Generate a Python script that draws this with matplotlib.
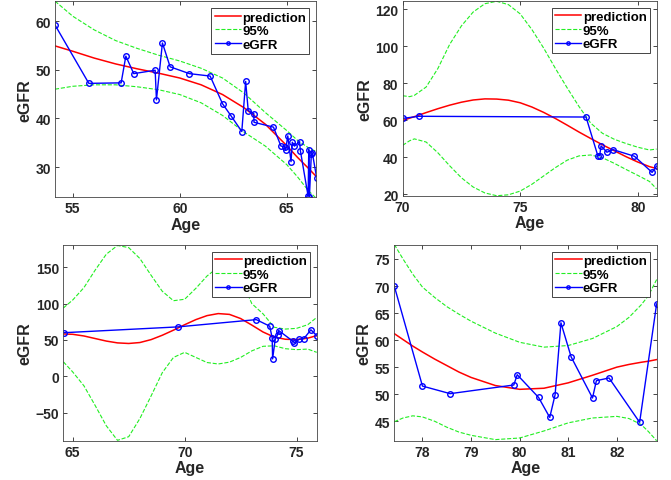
import matplotlib.pyplot as plt

plt.rcParams['font.family'] = ['Liberation Sans', 'DejaVu Sans']
plt.rcParams['font.weight'] = 'bold'

# ---- panel 1 ----
age1 = [54.17, 55.75, 57.26, 57.48, 57.85, 58.85, 58.91, 59.19, 59.55, 60.45, 61.42,
        62.0, 62.4, 62.9, 63.08, 63.2, 63.46, 63.47, 64.38, 64.73, 64.9, 64.95, 65.05,
        65.2, 65.26, 65.36, 65.6, 65.64, 66.0, 66.03, 66.06, 66.15, 66.2, 66.4]
egfr1 = [59.2, 47.2, 47.3, 52.8, 49.2, 49.9, 43.8, 55.5, 50.6, 49.2, 48.7,
         43.0, 40.5, 37.3, 47.6, 41.6, 41.0, 39.2, 38.2, 34.3, 34.2, 33.5, 36.4,
         31.1, 35.1, 34.3, 35.2, 33.3, 24.0, 33.6, 23.8, 32.7, 32.8, 27.8]
cage1 = [54.17, 55, 56, 57, 58, 59, 60, 61, 62, 63, 64, 65, 65.5, 66, 66.37]
pred1 = [54.9, 53.8, 52.4, 51.2, 50.2, 49.3, 48.3, 46.9, 44.9, 42.2, 38.8, 34.4, 32.0, 29.8, 28.1]
up1 = [64.1, 61.0, 58.2, 56.0, 54.4, 53.0, 51.8, 50.3, 48.3, 45.2, 41.2, 37.5, 35.5, 34.0, 33.2]
lo1 = [46.0, 46.6, 46.9, 46.9, 46.5, 45.9, 44.9, 43.2, 40.6, 37.2, 34.3, 30.5, 28.0, 25.2, 23.6]

# ---- panel 2 ----
age2 = [70.03, 70.7, 77.8, 78.3, 78.38, 78.44, 78.69, 78.95, 79.86, 80.61, 80.8]
egfr2 = [61.1, 62.2, 61.8, 41.0, 41.0, 46.2, 42.8, 44.2, 40.6, 31.9, 35.3]
cage2 = [70, 70.3, 70.5, 71, 71.5, 72, 72.5, 73, 73.5, 74, 74.5, 75, 75.5, 76, 76.5,
         77, 77.5, 78, 78.5, 79, 79.5, 80, 80.5, 80.8]
pred2 = [59.9, 61.2, 62.0, 64.2, 66.3, 68.2, 69.8, 71.0, 71.6, 71.5, 70.9, 69.5, 67.2,
         64.3, 61.0, 57.4, 53.7, 50.2, 46.8, 43.6, 40.4, 37.5, 35.0, 34.0]
up2 = [73.3, 72.8, 73.5, 78.0, 88.0, 101.0, 111.0, 118.5, 123.0, 124.3, 122.5, 117.5,
       109.0, 99.0, 88.0, 77.5, 67.5, 58.5, 53.0, 49.8, 47.5, 45.5, 44.0, 44.5]
lo2 = [46.5, 49.0, 50.0, 48.3, 42.5, 35.5, 29.0, 24.0, 20.8, 19.3, 19.8, 21.8, 25.5,
       30.0, 34.5, 38.5, 40.8, 41.3, 39.8, 36.8, 33.5, 30.3, 27.0, 23.0]

# ---- panel 3 ----
age3 = [64.6, 69.7, 73.2, 73.8, 73.91, 73.93, 74.05, 74.15, 74.2, 74.85, 74.9,
        75.12, 75.33, 75.64, 75.9]
egfr3 = [60, 68, 78, 69, 53, 24, 52, 57, 63, 48, 46, 51, 52, 64, 56]
cage3 = [64.58, 65, 65.5, 66, 66.5, 67, 67.5, 68, 68.5, 69, 69.5, 70, 70.5, 71, 71.5,
         72, 72.5, 73, 73.5, 74, 74.5, 75, 75.5, 75.9]
pred3 = [58.3, 57.8, 55.5, 52.0, 48.5, 46.0, 45.2, 46.5, 50.5, 56.5, 63.5, 71.0, 78.0,
         83.5, 86.3, 85.2, 79.5, 70.5, 61.0, 54.0, 51.0, 50.5, 52.5, 56.0]
up3 = [94, 105, 122, 146, 168, 180, 177, 162, 139, 117, 104, 106, 121, 138, 150,
       155, 135, 100, 86, 67.5, 65, 66, 71, 81]
lo3 = [20, 6, -13, -40, -68, -88, -83, -58, -27, 5, 26, 33, 26, 19, 17,
       19.5, 26, 35, 41.3, 42, 38, 36.7, 37.5, 33]

# ---- panel 4 ----
age4 = [77.42, 78.0, 78.57, 79.88, 79.95, 80.39, 80.62, 80.73, 80.85, 81.06, 81.5,
        81.58, 81.84, 82.47, 82.82]
egfr4 = [70.0, 51.5, 50.1, 51.7, 53.6, 49.4, 45.7, 49.9, 63.2, 56.9, 49.3,
         52.5, 53.0, 44.8, 66.7]
cage4 = [77.42, 77.6, 77.8, 78, 78.25, 78.5, 78.75, 79, 79.5, 80, 80.5, 81, 81.5,
         82, 82.25, 82.5, 82.65, 82.82]
pred4 = [61.2, 60.1, 58.9, 57.8, 56.5, 55.3, 54.1, 53.1, 51.6, 50.9, 51.1, 52.1, 53.5,
         55.0, 55.5, 55.9, 56.1, 56.4]
up4 = [77.7, 75.0, 72.2, 69.8, 67.9, 66.2, 64.8, 63.5, 61.3, 59.6, 58.7, 59.0, 60.3,
       62.5, 64.2, 66.5, 68.2, 71.2]
lo4 = [44.9, 45.6, 46.0, 45.8, 45.0, 43.9, 43.0, 42.4, 41.6, 41.9, 43.2, 44.7, 45.6,
       45.9, 45.5, 44.4, 43.1, 41.4]

panels = [
    ([0.082, 0.588, 0.389, 0.407], age1, egfr1, cage1, pred1, up1, lo1,
     (54.17, 66.37), (23.8, 64.05), [55, 60, 65], [30, 40, 50, 60]),
    ([0.600, 0.591, 0.3785, 0.405], age2, egfr2, cage2, pred2, up2, lo2,
     (70.0, 80.8), (19.3, 124.5), [70, 75, 80], [20, 40, 60, 80, 100, 120]),
    ([0.0944, 0.0817, 0.3776, 0.407], age3, egfr3, cage3, pred3, up3, lo3,
     (64.58, 75.9), (-88.5, 180.7), [65, 70, 75], [-50, 0, 50, 100, 150]),
    ([0.5876, 0.0817, 0.391, 0.407], age4, egfr4, cage4, pred4, up4, lo4,
     (77.42, 82.82), (41.4, 77.6), [78, 79, 80, 81, 82], [45, 50, 55, 60, 65, 70, 75]),
]

fig = plt.figure(figsize=(6.71, 4.81), dpi=100)

for rect, age, egfr, cage, pred, up, lo, xl, yl, xt, yt in panels:
    ax = fig.add_axes(rect)
    ax.plot(cage, pred, color='red', lw=1.1, label='prediction')
    ax.plot(cage, up, '--', color='#22ee22', lw=0.8, label='95%')
    ax.plot(cage, lo, '--', color='#22ee22', lw=0.8)
    ax.plot(age, egfr, '-o', color='blue', lw=1.0, ms=4, mfc='none', mew=1.0,
            label='eGFR')
    ax.set_xlim(xl)
    ax.set_ylim(yl)
    ax.set_xticks(xt)
    ax.set_yticks(yt)
    ax.tick_params(direction='in', top=True, right=True, length=3, width=0.6,
                   labelsize=10, colors='#262626', pad=3)
    for s in ax.spines.values():
        s.set_color('#444444')
        s.set_linewidth(0.6)
    ax.set_xlabel('Age', fontsize=11.5, fontweight='bold', color='#262626', labelpad=1)
    ax.set_ylabel('eGFR', fontsize=11.5, fontweight='bold', color='#262626', labelpad=2)
    leg = ax.legend(loc='upper right', fontsize=9.5, fancybox=False, framealpha=1,
                    edgecolor='#262626', borderpad=0.25, handlelength=2.0,
                    handletextpad=0.1, labelspacing=0.1, borderaxespad=0.5,
                    markerscale=0.6)
    leg.get_frame().set_linewidth(0.6)

fig.savefig('out.png', dpi=100)
